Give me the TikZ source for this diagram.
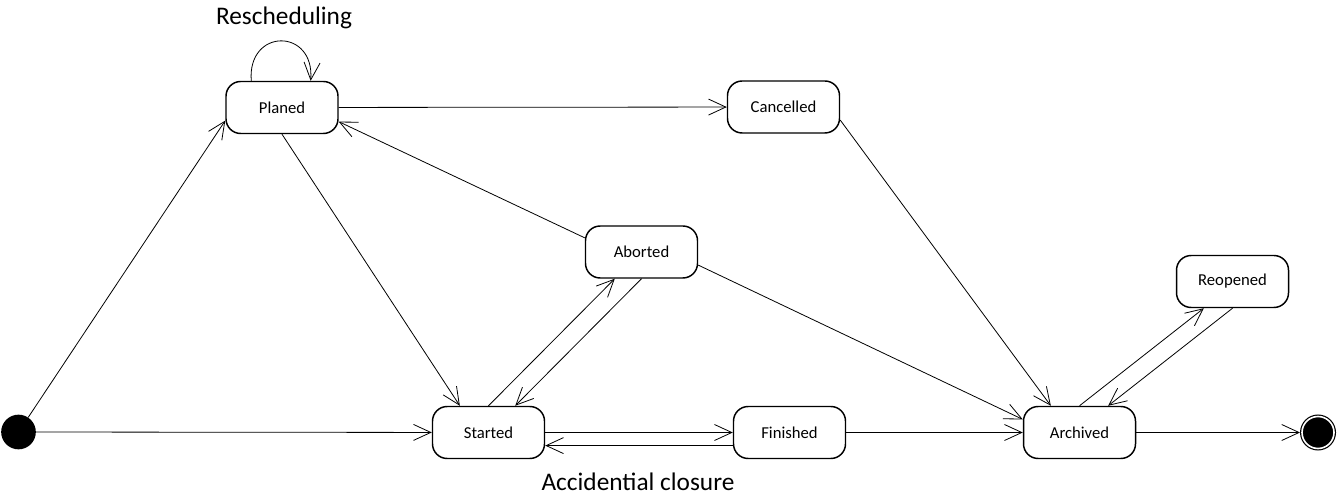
\documentclass[tikz,border=0pt]{standalone}
\usepackage{fontspec}
\setmainfont{Carlito}
\usetikzlibrary{arrows.meta}
\begin{document}
\begin{tikzpicture}[x=0.75pt,y=-0.75pt,
	box/.style={rectangle,rounded corners=11pt,draw=black,line width=1.1pt,minimum width=84pt,minimum height=39pt,inner sep=0pt,font=\fontsize{12.5}{15}\selectfont},
	ini/.style={circle,fill=black,minimum size=26pt,inner sep=0pt},
	fin/.style={circle,fill=black,draw=black,double=white,double distance=1.2pt,line width=0.9pt,minimum size=24pt,inner sep=0pt,outer sep=1.5pt},
	trans/.style={line width=0.6pt,-{Straight Barb[length=13pt,width=12pt]}},
	lbl/.style={font=\fontsize{19}{23}\selectfont}]
	\useasboundingbox (0,0) rectangle (1337,498);
	% states
	\node[ini] (init) at (18.5,432) {};
	\node[box] (planed) at (282,107.5) {Planed};
	\node[box] (cancelled) at (783.5,107) {Cancelled};
	\node[box] (aborted) at (641.5,252) {Aborted};
	\node[box] (reopened) at (1232.5,281.5) {Reopened};
	\node[box] (started) at (488.5,432.5) {Started};
	\node[box] (finished) at (789.5,432.5) {Finished};
	\node[box] (archived) at (1079.5,432.5) {Archived};
	\node[fin] (final) at (1318,432.5) {};
	\node[lbl] (resch) at (284,18) {Rescheduling};
	\node[lbl] (closure) at (638,482) {Accidential closure};
	% transitions
	\draw[trans] (init) -- (planed.193);
	\draw[trans] (init) -- (started);
	\draw[trans] (planed.139) .. controls +(-4,-53) and +(4,-53) .. (planed.43);
	\draw[trans] (planed) -- (cancelled);
	\draw[trans] (planed.south) -- (started.137);
	\draw[trans] (aborted.166) -- (planed.-14);
	\draw[trans] (started.north) -- (aborted.225);
	\draw[trans] (aborted.south) -- (started.45);
	\draw[trans] (started) -- (finished);
	\draw[trans] (finished.193) -- (started.-13);
	\draw[trans] (finished) -- (archived);
	\draw[trans] (cancelled.-13) -- (archived.137);
	\draw[trans] (aborted.-13) -- (archived.167);
	\draw[trans] (archived.north) -- (reopened.223);
	\draw[trans] (reopened.south) -- (archived.43);
	\draw[trans] (archived) -- (final);
\end{tikzpicture}
\end{document}
